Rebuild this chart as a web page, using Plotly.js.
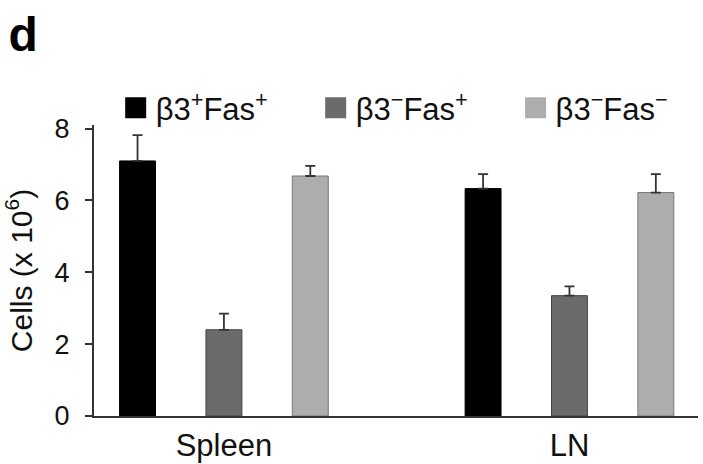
<!DOCTYPE html>
<html>
<head>
<meta charset="utf-8">
<script src="https://cdn.plot.ly/plotly-3.0.1.min.js"></script>
<style>html,body{margin:0;padding:0;background:#fff;}#chart{width:703px;height:464px;}</style>
</head>
<body>
<div id="chart"></div>
<script>
// Data
var categories = ['Spleen', 'LN'];
var seriesNames = ['β3<sup>+</sup>Fas<sup>+</sup>', 'β3<sup>−</sup>Fas<sup>+</sup>', 'β3<sup>−</sup>Fas<sup>−</sup>'];
var valuesB3pFasp = [7.10, 6.33];
var errorsB3pFasp = [0.72, 0.40];
var valuesB3mFasp = [2.40, 3.35];
var errorsB3mFasp = [0.45, 0.26];
var valuesB3mFasm = [6.68, 6.22];
var errorsB3mFasm = [0.28, 0.51];
var yTicks = [0, 2, 4, 6, 8];

var fills = ['#000000', '#6b6b6b', '#adadad'];
var outlines = ['#000000', '#444444', '#777777'];
var allValues = [valuesB3pFasp, valuesB3mFasp, valuesB3mFasm];
var allErrors = [errorsB3pFasp, errorsB3mFasp, errorsB3mFasm];
var legendIds = ['legend', 'legend2', 'legend3'];
var legendX = [0.0359, 0.367, 0.698];

var traces = [];
for (var i = 0; i < 3; i++) {
  traces.push({
    type: 'bar',
    x: categories,
    y: allValues[i],
    name: seriesNames[i],
    showlegend: false,
    marker: {color: fills[i], line: {color: outlines[i], width: 1}},
    error_y: {type: 'data', symmetric: false, array: allErrors[i], arrayminus: [0, 0],
              color: '#333333', thickness: 1.8, width: 5}
  });
}
// legend-only entries with larger square symbols, one legend per entry
for (var j = 0; j < 3; j++) {
  traces.push({
    type: 'scatter', mode: 'markers', x: [null], y: [null],
    name: seriesNames[j], showlegend: true, legend: legendIds[j],
    marker: {symbol: 'square', size: 16, color: fills[j], line: {color: fills[j], width: 5}}
  });
}

var layout = {
  width: 703, height: 464,
  paper_bgcolor: '#ffffff', plot_bgcolor: '#ffffff',
  font: {family: '"Liberation Sans", Arial, Helvetica, sans-serif', color: '#111111'},
  margin: {l: 94, r: 5, t: 125, b: 48},
  title: {text: '<b>d</b>', font: {size: 48, color: '#000'}, x: 0.012, xanchor: 'left', xref: 'container',
          y: 0.89, yref: 'container', yanchor: 'bottom'},
  barmode: 'group', bargap: 0.25, bargroupgap: 0.584,
  showlegend: true,
  xaxis: {type: 'category', range: [-0.376, 1.372], showgrid: false, zeroline: false,
          showline: true, linecolor: '#333', linewidth: 2, ticks: '',
          tickfont: {size: 31, color: '#111'}, ticklabelstandoff: 1, fixedrange: true},
  yaxis: {range: [0, 8.1], tickvals: yTicks, ticktext: yTicks.map(String), showgrid: false, zeroline: false,
          showline: true, linecolor: '#333', linewidth: 2, ticks: 'outside', ticklen: 7, tickwidth: 2,
          tickcolor: '#333', tickfont: {size: 27, color: '#111'}, ticklabelstandoff: 10,
          title: {text: 'Cells (x 10<sup>6</sup>)', font: {size: 30, color: '#111'}, standoff: 22}}
};
for (var k = 0; k < 3; k++) {
  layout[legendIds[k]] = {orientation: 'h', x: legendX[k], xanchor: 'left', y: 1.058, yanchor: 'middle',
    font: {size: 31, color: '#111'}, bgcolor: 'rgba(0,0,0,0)', borderwidth: 0, itemsizing: 'trace'};
}

Plotly.newPlot('chart', traces, layout, {displayModeBar: false, staticPlot: true});
</script>
</body>
</html>
